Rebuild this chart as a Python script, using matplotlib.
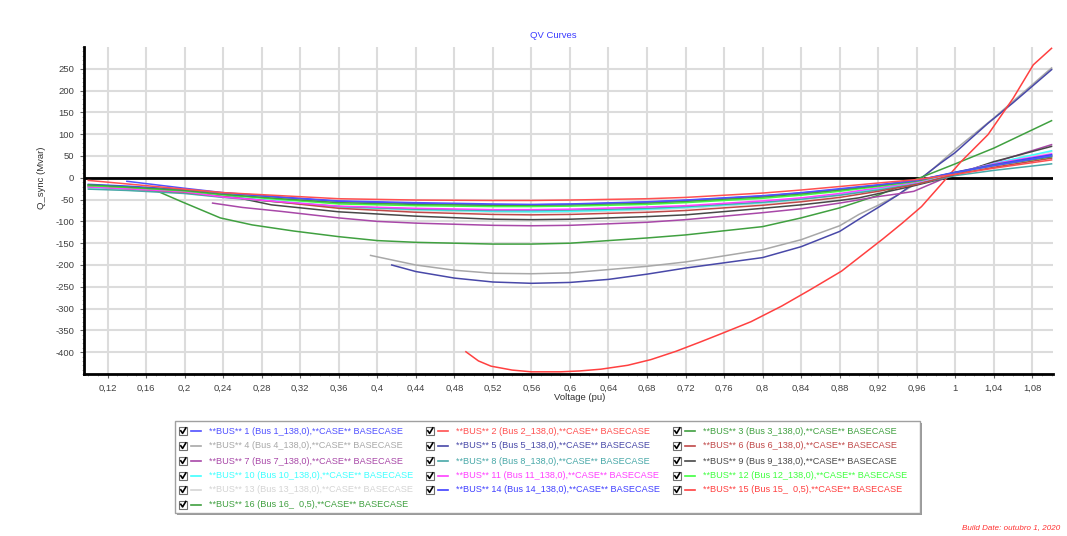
import matplotlib
matplotlib.use("Agg")
import matplotlib.pyplot as plt
from matplotlib.patches import Rectangle
from matplotlib.lines import Line2D
from matplotlib.ticker import MultipleLocator, FixedLocator

plt.rcParams['font.family'] = ['Liberation Sans', 'DejaVu Sans']

# ---- data -------------------------------------------------------------
VOLT_GRID = [0.10, 0.14, 0.20, 0.24, 0.30, 0.36, 0.44, 0.52, 0.56, 0.60,
             0.68, 0.72, 0.80, 0.84, 0.88, 0.92, 0.96, 1.00, 1.04, 1.10]

v_bus01 = VOLT_GRID[1:]
q_bus01 = [-8, -24, -34, -44, -53, -57, -60, -61, -60, -55, -51, -41, -34, -25, -16, -6, 12, 28, 50]
q_bus02 = [-6, -14, -26, -34, -41, -48, -51, -52, -52, -51, -48, -45, -35, -28, -20, -12, -4, 8, 22, 41]
q_bus03 = [-16, -21, -29, -38, -48, -57, -61, -63, -63, -62, -58, -54, -44, -37, -28, -18, -7, 12, 28, 48]
v_bus04 = [0.393, 0.44, 0.48, 0.52, 0.56, 0.60, 0.68, 0.72, 0.80, 0.84, 0.88, 0.90, 0.92, 0.94, 0.96, 1.00, 1.04, 1.10]
q_bus04 = [-178, -200, -212, -219, -220, -218, -203, -193, -165, -142, -110, -84, -63, -40, -12, 65, 137, 252]
v_bus05 = [0.415, 0.44, 0.48, 0.52, 0.56, 0.60, 0.64, 0.68, 0.72, 0.80, 0.84, 0.88, 0.90, 0.92, 0.94, 0.965, 0.985, 1.00, 1.034, 1.06, 1.10]
q_bus05 = [-200, -215, -230, -239, -242, -240, -233, -221, -207, -183, -158, -123, -95, -68, -40, 0, 34, 58, 125, 172, 248]
q_bus06 = [-20, -25, -33, -43, -56, -70, -79, -84, -85, -84, -79, -75, -63, -55, -45, -31, -15, 8, 24, 45]
v_bus07 = [0.229, 0.26, 0.30, 0.36, 0.40, 0.44, 0.52, 0.56, 0.60, 0.68, 0.72, 0.80, 0.84, 0.88, 0.92, 0.94, 0.957, 0.993, 1.04, 1.10]
q_bus07 = [-58, -68, -77, -92, -100, -104, -109, -110, -109, -102, -96, -80, -71, -58, -43, -37, -31, 3, 35, 76]
q_bus08 = [-26, -29, -36, -45, -56, -66, -72, -75, -75, -74, -70, -66, -56, -49, -40, -28, -14, 5, 17, 32]
v_bus09 = [0.24, 0.26, 0.29, 0.36, 0.40, 0.44, 0.52, 0.56, 0.60, 0.68, 0.72, 0.80, 0.84, 0.88, 0.90, 0.954, 0.989, 1.04, 1.10]
q_bus09 = [-36, -48, -62, -78, -83, -88, -95, -96, -95, -89, -85, -70, -62, -52, -46, -20, -1, 37, 72]
q_bus10 = [-22, -26, -33, -42, -54, -66, -73, -77, -78, -77, -72, -68, -57, -49, -38, -25, -11, 10, 33, 62]
q_bus11 = [-21, -25, -32, -44, -55, -65, -70, -73, -73, -72, -67, -64, -53, -46, -36, -23, -10, 12, 32, 55]
q_bus12 = [-18, -22, -30, -39, -50, -60, -64, -66, -66, -65, -61, -57, -47, -40, -31, -20, -8, 12, 30, 52]
q_bus13 = [-24, -28, -35, -44, -56, -68, -75, -79, -80, -79, -74, -70, -59, -51, -40, -27, -12, 10, 33, 60]
q_bus14 = [-15, -19, -27, -35, -45, -54, -59, -62, -62, -61, -56, -52, -42, -35, -27, -17, -6, 13, 30, 53]
v_bus15 = [0.492, 0.505, 0.518, 0.54, 0.56, 0.59, 0.61, 0.632, 0.66, 0.684, 0.71, 0.736, 0.76, 0.788,
           0.82, 0.85, 0.882, 0.90, 0.925, 0.945, 0.965, 0.985, 1.006, 1.034, 1.06, 1.081, 1.10]
q_bus15 = [-399, -420, -432, -441, -445, -445, -443, -439, -430, -417, -398, -376, -355, -330,
           -294, -256, -214, -183, -140, -104, -66, -16, 37, 99, 182, 259, 297]
v_bus16 = [0.10, 0.14, 0.172, 0.196, 0.237, 0.27, 0.313, 0.36, 0.40, 0.44, 0.52, 0.56, 0.60, 0.68, 0.72, 0.80, 0.84, 0.88, 0.92, 0.96, 1.00, 1.04, 1.10]
q_bus16 = [-17, -22, -31, -54, -92, -108, -122, -135, -144, -148, -152, -152, -150, -138, -131, -112, -92, -69, -40, -3, 32, 68, 131]

BUS_LABELS = [
    "**BUS** 1 (Bus 1_138,0),**CASE** BASECASE",
    "**BUS** 2 (Bus 2_138,0),**CASE** BASECASE",
    "**BUS** 3 (Bus 3_138,0),**CASE** BASECASE",
    "**BUS** 4 (Bus 4_138,0),**CASE** BASECASE",
    "**BUS** 5 (Bus 5_138,0),**CASE** BASECASE",
    "**BUS** 6 (Bus 6_138,0),**CASE** BASECASE",
    "**BUS** 7 (Bus 7_138,0),**CASE** BASECASE",
    "**BUS** 8 (Bus 8_138,0),**CASE** BASECASE",
    "**BUS** 9 (Bus 9_138,0),**CASE** BASECASE",
    "**BUS** 10 (Bus 10_138,0),**CASE** BASECASE",
    "**BUS** 11 (Bus 11_138,0),**CASE** BASECASE",
    "**BUS** 12 (Bus 12_138,0),**CASE** BASECASE",
    "**BUS** 13 (Bus 13_138,0),**CASE** BASECASE",
    "**BUS** 14 (Bus 14_138,0),**CASE** BASECASE",
    "**BUS** 15 (Bus 15_  0,5),**CASE** BASECASE",
    "**BUS** 16 (Bus 16_  0,5),**CASE** BASECASE",
]
BUS_COLORS = ["#5050ff", "#ff5050", "#40a040", "#a8a8a8", "#4848a8", "#c04848",
              "#a848a8", "#48a8a8", "#484848", "#40ffff", "#ff40ff", "#40ff40",
              "#d4d4d4", "#4040ff", "#ff4040", "#40a040"]

X_TICKS = [0.12, 0.16, 0.20, 0.24, 0.28, 0.32, 0.36, 0.40, 0.44, 0.48, 0.52, 0.56,
           0.60, 0.64, 0.68, 0.72, 0.76, 0.80, 0.84, 0.88, 0.92, 0.96, 1.00, 1.04, 1.08]
Y_TICKS = list(range(-400, 251, 50))

curves = [
    (v_bus01, q_bus01), (VOLT_GRID, q_bus02), (VOLT_GRID, q_bus03),
    (v_bus04, q_bus04), (v_bus05, q_bus05), (VOLT_GRID, q_bus06),
    (v_bus07, q_bus07), (VOLT_GRID, q_bus08), (v_bus09, q_bus09),
    (VOLT_GRID, q_bus10), (VOLT_GRID, q_bus11), (VOLT_GRID, q_bus12),
    (VOLT_GRID, q_bus13), (VOLT_GRID, q_bus14), (v_bus15, q_bus15),
    (v_bus16, q_bus16),
]

# ---- figure -----------------------------------------------------------
W, H = 1067, 536
fig = plt.figure(figsize=(W / 100, H / 100), dpi=100)
fig.patch.set_facecolor("white")


def fx(px):
    return px / W


def fy(py):
    return 1 - py / H


ax = fig.add_axes([fx(84), fy(374), fx(1053) - fx(84), fy(47) - fy(374)])
ax.set_xlim(0.0955, 1.1015)
ax.set_ylim(-450, 300)

ax.grid(True, which="major", color="#dcdcdc", lw=1.5, zorder=0)
ax.set_axisbelow(True)
ax.axhline(0, color="black", lw=2.0, zorder=3)

draw_order = [12, 3, 4, 15, 14, 6, 8, 9, 7, 5, 10, 11, 13, 2, 0, 1]
for i in draw_order:
    v, q = curves[i]
    ax.plot(v, q, color=BUS_COLORS[i], lw=1.1, zorder=4, solid_joinstyle="round")

for side in ("top", "right"):
    ax.spines[side].set_visible(False)
for side in ("left", "bottom"):
    ax.spines[side].set_linewidth(2.0)
    ax.spines[side].set_color("black")

ax.xaxis.set_major_locator(FixedLocator(X_TICKS))
ax.yaxis.set_major_locator(FixedLocator(Y_TICKS))
ax.xaxis.set_minor_locator(MultipleLocator(0.01))
ax.yaxis.set_minor_locator(MultipleLocator(10))
ax.set_xticklabels([f"{t:g}".replace(".", ",") for t in X_TICKS])
ax.set_yticklabels([str(t) for t in Y_TICKS])
ax.tick_params(which="major", length=3, width=0.8, colors="#666666",
               labelsize=6.8, labelcolor="#404040", pad=4)
ax.tick_params(which="minor", length=1.6, width=0.5, colors="#999999")

fig.text(fx(553), fy(35), "QV Curves", color="#3a3aff", fontsize=6.8,
         ha="center", va="center")
fig.text(fx(42), fy(178), "Q_sync (Mvar)", color="#303030", fontsize=6.8,
         rotation=90, ha="center", va="center")
fig.text(fx(580), fy(398), "Voltage (pu)", color="#303030", fontsize=6.8,
         ha="center", va="center")
fig.text(fx(1060), fy(528), "Build Date: outubro 1, 2020", color="#ff3030",
         fontsize=5.8, style="italic", ha="right", va="center")

# ---- legend panel with check boxes ------------------------------------
box_l, box_t, box_r, box_b = 175, 421, 920, 513
fig.patches.append(Rectangle((fx(box_l + 2), fy(box_b + 2)), fx(box_r - box_l), fy(box_t) - fy(box_b),
                             transform=fig.transFigure, facecolor="#9a9a9a",
                             edgecolor="none", zorder=1))
fig.patches.append(Rectangle((fx(box_l), fy(box_b)), fx(box_r - box_l), fy(box_t) - fy(box_b),
                             transform=fig.transFigure, facecolor="white",
                             edgecolor="#a0a0a0", lw=1.0, zorder=2))

col_x = [179, 426, 673]
row_y = [431, 446, 461, 476, 490, 504.5]
for k, label in enumerate(BUS_LABELS):
    r, c = divmod(k, 3)
    x0 = col_x[c]
    yc = row_y[r]
    fig.patches.append(Rectangle((fx(x0), fy(yc + 4)), fx(8), fy(yc - 4) - fy(yc + 4),
                                 transform=fig.transFigure, facecolor="white",
                                 edgecolor="#707070", lw=0.8, zorder=3))
    fig.lines.append(Line2D([fx(x0 + 1.8), fx(x0 + 3.6), fx(x0 + 6.8)],
                            [fy(yc - 0.2), fy(yc + 2.4), fy(yc - 3.0)],
                            transform=fig.transFigure, color="black", lw=1.2, zorder=4))
    fig.lines.append(Line2D([fx(x0 + 12), fx(x0 + 22)], [fy(yc), fy(yc)],
                            transform=fig.transFigure, color=BUS_COLORS[k], lw=1.2, zorder=4))
    fig.text(fx(x0 + 30), fy(yc), label, color=BUS_COLORS[k], fontsize=6.6,
             ha="left", va="center", zorder=5)

fig.savefig("out.png", dpi=100, facecolor="white")
